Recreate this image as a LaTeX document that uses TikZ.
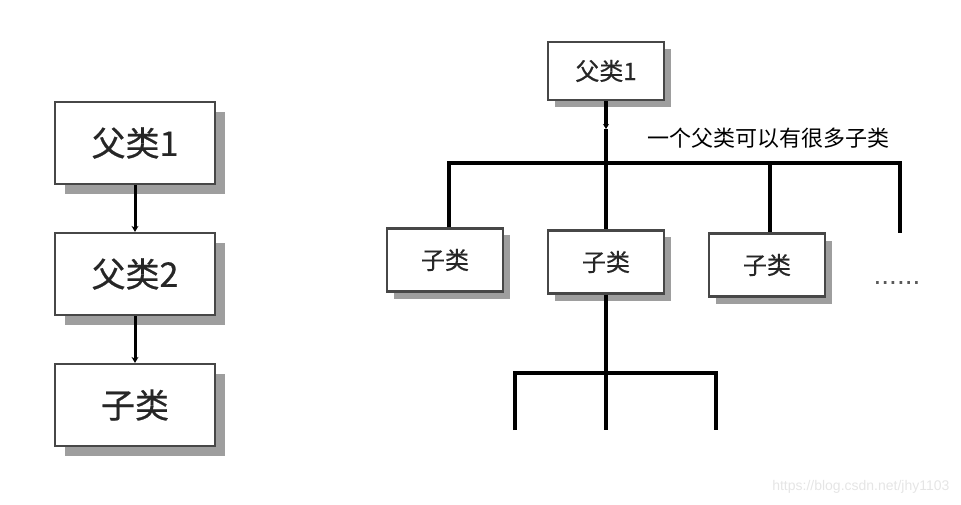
\documentclass[tikz,border=0pt]{standalone}
\usepackage{fontspec}
\setmainfont{Noto Sans CJK SC}
\newfontfamily\boxfont{Noto Sans CJK SC}[FakeBold=0.6]
\newfontfamily\markfont{Liberation Sans}
\usetikzlibrary{shadows,arrows.meta}

\begin{document}
\begin{tikzpicture}[x=1pt, y=-1pt,
    box/.style={draw=black!72, line width=2.2pt, fill=white, inner sep=0pt, text=black!85},
    bigbox/.style={box, minimum width=160pt, minimum height=82pt, font=\boxfont\fontsize{34}{38}\selectfont,
      drop shadow={shadow xshift=10pt, shadow yshift=-10pt, fill=black!38, opacity=1}},
    smallbox/.style={box, minimum width=116pt, minimum height=63pt, font=\boxfont\fontsize{24}{28}\selectfont,
      drop shadow={shadow xshift=7pt, shadow yshift=-7pt, fill=black!38, opacity=1}},
    link/.style={line width=3pt, -{Stealth[length=6pt, width=7pt]}},
    bar/.style={line width=4.2pt}]
    \useasboundingbox (0,0) rectangle (961,505);
    % left: a chain of classes
    \node[bigbox] (p1) at (135,143) {父类1};
    \node[bigbox] (p2) at (135,274) {父类2};
    \node[bigbox] (c0) at (135,405) {子类};
    \draw[link] (p1) -- (p2);
    \draw[link] (p2) -- (c0);
    % right: one parent, many children
    \node[smallbox, minimum height=58pt] (top) at (606,71) {父类1};
    \node[smallbox] (kA) at (445,260) {子类};
    \node[smallbox] (kB) at (606,262) {子类};
    \node[smallbox] (kC) at (767,265) {子类};
    \node[font=\markfont\fontsize{28}{30}\selectfont, text=black!65] (more) at (897,283) {......};
    \node[anchor=west, font=\fontsize{22}{26}\selectfont] (note) at (644,138) {一个父类可以有很多子类};
    \coordinate (tip) at (606,129);
    \coordinate (barL) at (449,163);
    \coordinate (barR) at (900,163);
    \coordinate (dropC) at (770,163);
    \draw[bar, -{Stealth[length=5pt, width=6pt]}] (top) -- (tip);
    \draw[bar] (tip) -- (kB);
    \draw[bar] (barL |- kA.north) -- (barL) -- (barR) -- ++(0,70);
    \draw[bar] (dropC) -- (dropC |- kC.north);
    \coordinate (split) at (606,373);
    \coordinate (legL) at (515,373);
    \coordinate (legR) at (716,373);
    \coordinate (footL) at (515,430);
    \draw[bar] (kB) -- (split);
    \draw[bar] (footL) -- (legL) -- (legR) -- ++(0,57);
    \draw[bar] (split) -- ++(0,57);
    \node[anchor=east, text=black!10, font=\markfont\fontsize{14}{16}\selectfont] (mark) at (953,487) {https://blog.csdn.net/jhy1103};
\end{tikzpicture}
\end{document}
